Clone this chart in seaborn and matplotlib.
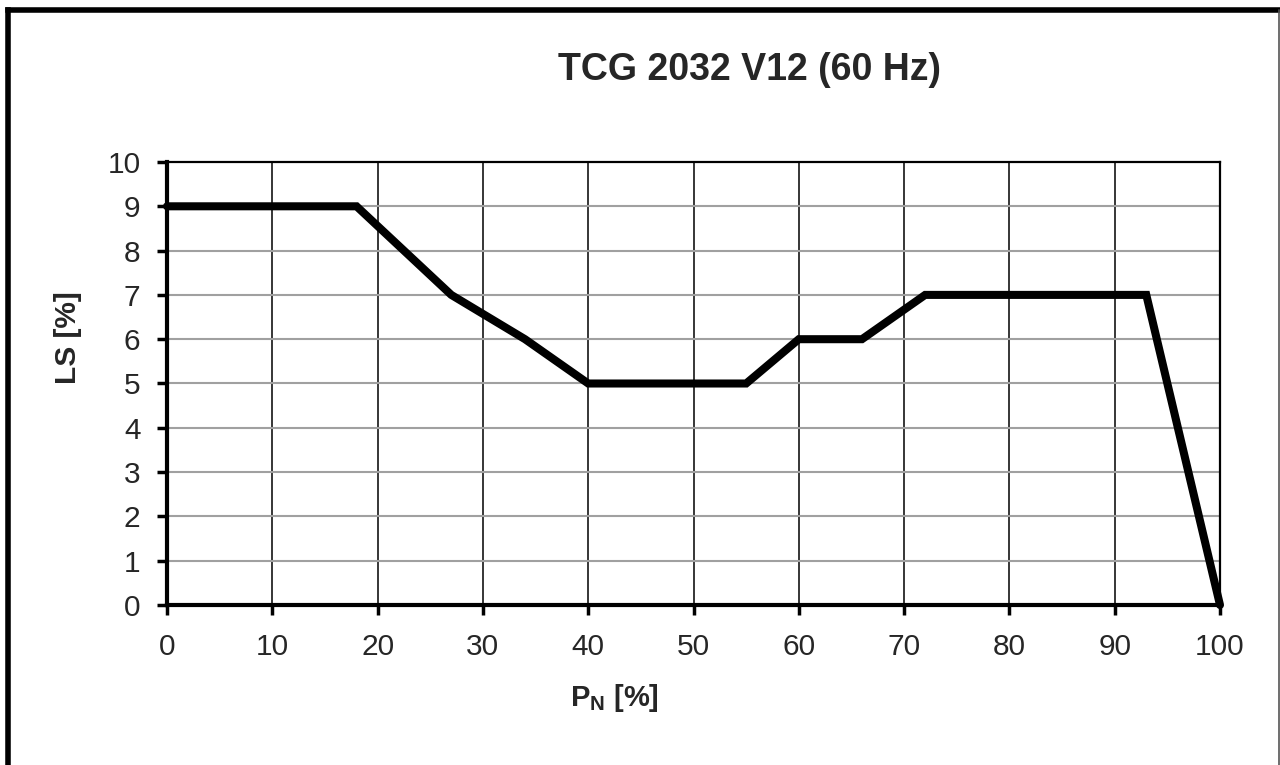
# LS vs P_N curve for TCG 2032 V12 (60 Hz)

import pandas as pd
import numpy as np
import matplotlib.pyplot as plt
import seaborn as sns
from matplotlib.lines import Line2D

p_n = [0, 18, 27, 34, 40, 55, 60, 66, 72, 93, 100]
ls = [9, 9, 7, 6, 5, 5, 6, 6, 7, 7, 0]
x_ticks = list(range(0, 101, 10))
y_ticks = list(range(0, 11))

sns.set_style("white")
plt.rcParams['font.family'] = ['Liberation Sans', 'DejaVu Sans']
plt.rcParams['mathtext.fontset'] = 'custom'
plt.rcParams['mathtext.bf'] = 'Liberation Sans:bold'
plt.rcParams['mathtext.rm'] = 'Liberation Sans'

df = pd.DataFrame({"P_N": p_n, "LS": ls})

fig = plt.figure(figsize=(12.8, 7.65), dpi=100)
ax = fig.add_axes([167/1280, 1-605/765, (1220-167)/1280, (605-162)/765])

# grid: vertical black, horizontal gray
for xv in x_ticks[1:]:
    ax.axvline(xv, color="black", lw=1.1, zorder=1)
for yv in y_ticks[1:-1]:
    ax.axhline(yv, color="#a0a0a0", lw=1.5, zorder=1)

sns.lineplot(data=df, x="P_N", y="LS", ax=ax, color="black", lw=5.8, zorder=3,
             solid_joinstyle="miter", clip_on=False)

ax.set_xlim(0, 100)
ax.set_ylim(0, 10)
ax.set_xticks(x_ticks)
ax.set_yticks(y_ticks)
ax.tick_params(axis="both", labelsize=21.5, direction="out", length=7, width=2.5,
               color="black", bottom=True, left=True)
ax.tick_params(axis="x", pad=13)
ax.tick_params(axis="y", pad=12)
ax.set_xlabel("")
ax.set_ylabel("")

for side in ["left", "bottom"]:
    ax.spines[side].set_linewidth(3)
    ax.spines[side].set_color("black")
for side in ["top", "right"]:
    ax.spines[side].set_linewidth(1.6)
    ax.spines[side].set_color("black")

fig.text(750/1280, 1-70/765, "TCG 2032 V12 (60 Hz)", ha="center", va="center",
         fontsize=27, fontweight="bold")
fig.text(614/1280, 1-698/765, r"P$_{\mathbf{N}}$ [%]", ha="center", va="center",
         fontsize=21, fontweight="bold")
fig.text(68/1280, 1-338/765, "LS [%]", ha="center", va="center", rotation=90,
         fontsize=21.5, fontweight="bold")

# outer chart frame
fig.add_artist(Line2D([8/1280, 8/1280], [0, 1-10/765], color="black", lw=4,
                      transform=fig.transFigure, solid_capstyle="projecting"))
fig.add_artist(Line2D([8/1280, 1], [1-10/765, 1-10/765], color="black", lw=4,
                      transform=fig.transFigure, solid_capstyle="projecting"))
fig.add_artist(Line2D([1278.5/1280, 1278.5/1280], [0, 1-10/765], color="#555555", lw=1.2,
                      transform=fig.transFigure))

fig.savefig("out.png", dpi=100, facecolor="white")
plt.close(fig)
